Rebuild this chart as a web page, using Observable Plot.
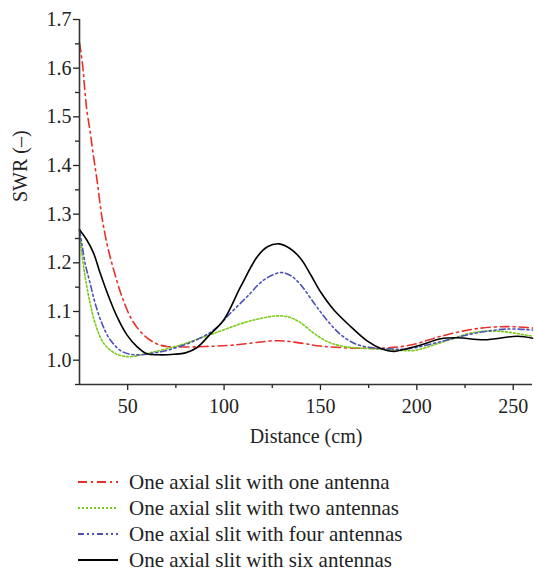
<!DOCTYPE html>
<html>
<head>
<meta charset="utf-8">
<script src="https://cdn.jsdelivr.net/npm/d3@7"></script>
<script src="https://cdn.jsdelivr.net/npm/@observablehq/plot@0.6"></script>
<style>
  body { margin: 0; background: #fff; font-family: "Liberation Serif", "Times New Roman", serif; }
  #chart svg, #chart svg text { font-family: "Liberation Serif", "Times New Roman", serif !important; }
  #legend { position: relative; width: 535px; padding-top: 14px; }
  .row { display: flex; align-items: center; height: 26px; }
  .row svg { margin-left: 78px; margin-right: 11px; flex: none; }
  .row span { font-size: 21px; color: #222; white-space: nowrap; }
</style>
</head>
<body>
<div id="chart"></div>
<div id="legend"></div>
<script>
const seriesNames = [
  "One axial slit with one antenna",
  "One axial slit with two antennas",
  "One axial slit with four antennas",
  "One axial slit with six antennas"
];
const colors = ["#e8302a", "#7ccc1c", "#4b50b8", "#000000"];
const dashes = ["9,4,2,4", "2,2", "6,3,2,3,2,3", null];

const xOne = [25, 26.6, 27.6, 28.8, 30.5, 31.9, 34.2, 36.6, 39.2, 42.7, 47, 52.2, 58.2, 64.3, 70.3, 78, 90, 105, 127.6, 140, 150, 165.7, 183, 196.8, 212.4, 229.7, 247, 260];
const yOne = [1.652, 1.607, 1.562, 1.514, 1.470, 1.429, 1.367, 1.295, 1.240, 1.186, 1.131, 1.083, 1.052, 1.035, 1.028, 1.027, 1.028, 1.031, 1.040, 1.035, 1.029, 1.025, 1.025, 1.031, 1.049, 1.064, 1.069, 1.066];

const xTwo = [25, 26.2, 27.9, 30.5, 33.1, 37.5, 43.5, 50.4, 59.1, 67.7, 76.4, 94.7, 112.1, 127.6, 134, 139.7, 146.7, 153.6, 162.2, 174.4, 188.2, 198.6, 212.4, 229.7, 243.6, 260];
const yTwo = [1.268, 1.22, 1.172, 1.117, 1.076, 1.035, 1.014, 1.007, 1.013, 1.021, 1.030, 1.055, 1.079, 1.091, 1.088, 1.077, 1.055, 1.038, 1.028, 1.024, 1.021, 1.020, 1.036, 1.057, 1.059, 1.049];

const xFour = [25, 26.2, 27.9, 30.5, 33.1, 36.6, 40.9, 47, 53.9, 62.5, 71.2, 83.5, 94.7, 103.4, 112.1, 120.7, 129.4, 134.5, 139.7, 146.7, 151.8, 157, 162.2, 169.2, 177.8, 186.5, 195.1, 212.4, 229.7, 247, 260];
const yFour = [1.268, 1.240, 1.199, 1.158, 1.117, 1.076, 1.042, 1.018, 1.011, 1.014, 1.021, 1.038, 1.062, 1.097, 1.131, 1.165, 1.180, 1.174, 1.155, 1.117, 1.090, 1.066, 1.047, 1.032, 1.025, 1.023, 1.023, 1.038, 1.055, 1.064, 1.062];

const xSix = [25, 28.8, 32.3, 35.7, 40.1, 44.4, 49.6, 54.8, 60, 66, 74, 80, 86, 92, 99.9, 108.6, 117.3, 122.5, 128.5, 134, 139.7, 145, 150.1, 157, 165.7, 174.4, 181.3, 188.2, 195.1, 202.1, 212.4, 221.1, 234.9, 252.2, 260];
const ySix = [1.268, 1.247, 1.220, 1.179, 1.131, 1.090, 1.052, 1.028, 1.013, 1.011, 1.012, 1.015, 1.026, 1.050, 1.083, 1.151, 1.213, 1.233, 1.239, 1.230, 1.209, 1.175, 1.140, 1.103, 1.069, 1.039, 1.024, 1.018, 1.024, 1.031, 1.044, 1.046, 1.042, 1.049, 1.045];

const xTicks = [50, 100, 150, 200, 250];
const xMinor = [75, 125, 175, 225];
const yTicks = [1.0, 1.1, 1.2, 1.3, 1.4, 1.5, 1.6, 1.7];
const yMinor = [0.95, 1.05, 1.15, 1.25, 1.35, 1.45, 1.55, 1.65];

const xs = [xOne, xTwo, xFour, xSix];
const ys = [yOne, yTwo, yFour, ySix];
const data = [];
seriesNames.forEach((s, i) => xs[i].forEach((x, j) => data.push({series: s, x, y: ys[i][j]})));

const FONT = "Liberation Serif, Times New Roman, serif";
const W = 535, H = 455;
const lineMarks = seriesNames.map((s, i) =>
  Plot.line(data.filter(d => d.series === s), {
    x: "x", y: "y", stroke: colors[i], strokeWidth: 1.6,
    strokeDasharray: dashes[i] || undefined, curve: "catmull-rom"
  })
);

const chart = Plot.plot({
  width: W, height: H,
  marginLeft: 79, marginRight: 3, marginTop: 19, marginBottom: H - 384,
  style: { fontFamily: FONT, fontSize: "20px", color: "#222", background: "#fff" },
  x: { domain: [25, 260] },
  y: { domain: [0.95, 1.7] },
  marks: [
    ...lineMarks,
    Plot.axisX({ ticks: xTicks, tickSize: 6, tickPadding: 8, tickFormat: d => d, label: null, strokeWidth: 1.3, fontSize: 20, fontFamily: FONT }),
    Plot.axisX({ ticks: xMinor, tickSize: 4, text: null, label: null, strokeWidth: 1.3 }),
    Plot.axisY({ ticks: yTicks, tickSize: 6, tickPadding: 2, tickFormat: d3.format(".1f"), label: null, strokeWidth: 1.3, fontSize: 20, fontFamily: FONT }),
    Plot.axisY({ ticks: yMinor, tickSize: 4, text: null, label: null, strokeWidth: 1.3 }),
    Plot.ruleX([25], { stroke: "#333", strokeWidth: 1.6 }),
    Plot.ruleY([0.95], { stroke: "#333", strokeWidth: 1.6 }),
    Plot.text(["Distance (cm)"], { frameAnchor: "bottom", dy: 58, fontSize: 20, fill: "#222", fontFamily: FONT }),
    Plot.text(["SWR (–)"], { frameAnchor: "left", dx: -59, rotate: -90, fontSize: 20, fill: "#222", fontFamily: FONT })
  ]
});
document.getElementById("chart").appendChild(chart);

const legend = document.getElementById("legend");
seriesNames.forEach((s, i) => {
  const row = document.createElement("div");
  row.className = "row";
  row.innerHTML = `<svg width="40" height="10"><line x1="0" y1="5" x2="40" y2="5" stroke="${colors[i]}" stroke-width="1.8" ${dashes[i] ? `stroke-dasharray="${dashes[i]}"` : ""}/></svg><span>${s}</span>`;
  legend.appendChild(row);
});
</script>
</body>
</html>
